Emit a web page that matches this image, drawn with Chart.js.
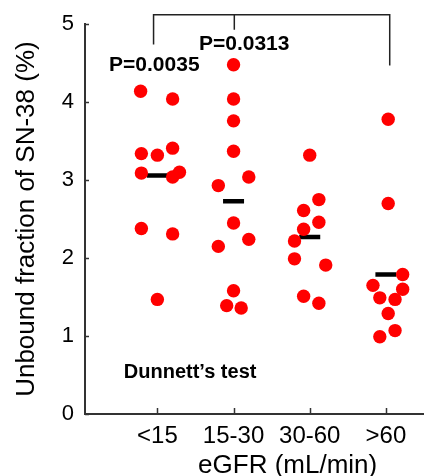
<!DOCTYPE html>
<html>
<head>
<meta charset="utf-8">
<script src="https://cdn.jsdelivr.net/npm/chart.js@4.4.1/dist/chart.umd.min.js"></script>
<style>
  html, body { margin: 0; padding: 0; background: #fff; }
  canvas { display: block; }
</style>
</head>
<body>
<canvas id="grafico" width="424" height="476"></canvas>
<script>
// Categorías de eGFR (mL/min)
const categorias = ['<15', '15-30', '30-60', '>60'];

// Fracción libre de SN-38 (%) por grupo
const valoresG1 = [4.14, 4.04, 3.41, 3.34, 3.32, 3.10, 3.09, 3.04, 2.38, 2.31, 1.47];
const valoresG2 = [4.48, 4.04, 3.76, 3.37, 3.04, 2.93, 2.45, 2.24, 2.15, 1.58, 1.39, 1.36];
const valoresG3 = [3.32, 2.75, 2.61, 2.46, 2.37, 2.22, 1.99, 1.91, 1.51, 1.42];
const valoresG4 = [3.78, 2.70, 1.79, 1.65, 1.60, 1.49, 1.47, 1.29, 1.07, 0.99];

// Desplazamiento horizontal (jitter) de cada punto respecto a su categoría
const jitterG1 = [-0.22, 0.20, 0.20, -0.21, 0.00, 0.29, -0.21, 0.20, -0.21, 0.20, 0.00];
const jitterG2 = [0.00, 0.00, 0.00, 0.00, 0.20, -0.20, 0.00, 0.20, -0.20, 0.00, -0.09, 0.10];
const jitterG3 = [0.00, 0.12, -0.08, 0.12, -0.08, -0.20, -0.20, 0.21, -0.08, 0.12];
const jitterG4 = [0.03, 0.03, 0.22, -0.17, 0.22, -0.08, 0.12, 0.03, 0.12, -0.08];

// Medias de cada grupo
const medias = [3.06, 2.73, 2.27, 1.79];

// Marcas del eje Y
const ticksY = [0, 1, 2, 3, 4, 5];

const grupos = [valoresG1, valoresG2, valoresG3, valoresG4];
const jitters = [jitterG1, jitterG2, jitterG3, jitterG4];

let puntos = [];
grupos.forEach((vals, i) => {
    vals.forEach((v, j) => {
        puntos.push({ x: i + 1 + jitters[i][j], y: v });
    });
});

const puntosMedias = medias.map((m, i) => ({ x: i + 1, y: m }));

const fuente = "'Liberation Sans', Arial, sans-serif";

// Anotaciones: marcas interiores, corchete, valores P y títulos
const anotaciones = {
    id: 'anotaciones',
    afterDraw(chart) {
        const ctx = chart.ctx;
        const xs = chart.scales.x;
        const ys = chart.scales.y;
        const area = chart.chartArea;

        ctx.save();
        ctx.strokeStyle = '#333';
        ctx.lineWidth = 1.5;

        // marcas hacia dentro
        ticksY.forEach(t => {
            const py = Math.round(ys.getPixelForValue(t)) + 0.5;
            ctx.beginPath();
            ctx.moveTo(area.left, py);
            ctx.lineTo(area.left + 4, py);
            ctx.stroke();
        });
        categorias.forEach((c, i) => {
            const px = Math.round(xs.getPixelForValue(i + 1)) + 0.5;
            ctx.beginPath();
            ctx.moveTo(px, area.bottom);
            ctx.lineTo(px, area.bottom - 6);
            ctx.stroke();
        });

        // corchete de comparación
        const xl = xs.getPixelForValue(0.95);
        const xm = xs.getPixelForValue(2.01);
        const xr = xs.getPixelForValue(4.05);
        const yTop = ys.getPixelForValue(5.12);
        ctx.strokeStyle = '#222';
        ctx.beginPath();
        ctx.moveTo(xl, ys.getPixelForValue(4.74));
        ctx.lineTo(xl, yTop);
        ctx.lineTo(xr, yTop);
        ctx.lineTo(xr, ys.getPixelForValue(4.47));
        ctx.moveTo(xm, yTop);
        ctx.lineTo(xm, ys.getPixelForValue(4.93));
        ctx.stroke();

        ctx.fillStyle = '#000';
        ctx.textAlign = 'center';
        ctx.textBaseline = 'middle';
        ctx.font = 'bold 21px ' + fuente;
        ctx.fillText('P=0.0035', xs.getPixelForValue(0.96), ys.getPixelForValue(4.47));
        ctx.fillText('P=0.0313', xs.getPixelForValue(2.14), ys.getPixelForValue(4.74));

        ctx.font = 'bold 20px ' + fuente;
        ctx.fillText('Dunnett\u2019s test', xs.getPixelForValue(1.43), ys.getPixelForValue(0.53));

        // título del eje X
        ctx.font = '26px ' + fuente;
        ctx.fillText('eGFR (mL/min)', xs.getPixelForValue(2.71), area.bottom + 52);
        ctx.restore();
    }
};

function crearGrafico() {
    const ctx = document.getElementById('grafico').getContext('2d');
    new Chart(ctx, {
        type: 'scatter',
        data: {
            datasets: [
                {
                    label: 'Pacientes',
                    data: puntos,
                    backgroundColor: '#ff0000',
                    borderWidth: 0,
                    pointRadius: 6.7,
                    pointHoverRadius: 6.7,
                    order: 1
                },
                {
                    label: 'Media',
                    data: puntosMedias,
                    pointStyle: 'line',
                    borderColor: '#000',
                    backgroundColor: '#000',
                    pointBorderWidth: 4.5,
                    pointRadius: 10.5,
                    order: 2
                }
            ]
        },
        options: {
            responsive: false,
            animation: false,
            layout: { autoPadding: false, padding: { top: 21, right: 0, bottom: 0, left: 0 } },
            plugins: {
                legend: { display: false },
                tooltip: { enabled: false }
            },
            scales: {
                x: {
                    type: 'linear',
                    min: 0.05,
                    max: 4.5,
                    afterFit: s => { s.height = 62; s.paddingLeft = 0; s.paddingRight = 0; },
                    afterBuildTicks: s => { s.ticks = categorias.map((c, i) => ({ value: i + 1 })); },
                    grid: { display: false, drawTicks: false },
                    border: { display: true, color: '#333', width: 2 },
                    ticks: {
                        color: '#000',
                        padding: 8,
                        maxRotation: 0,
                        autoSkip: false,
                        font: { family: fuente, size: 24 },
                        callback: v => categorias[v - 1]
                    }
                },
                y: {
                    min: 0,
                    max: 5,
                    afterFit: s => { s.width = 85; },
                    grid: { display: false, drawTicks: false },
                    border: { display: true, color: '#333', width: 2 },
                    ticks: {
                        stepSize: 1,
                        color: '#000',
                        padding: 11,
                        font: { family: fuente, size: 22 }
                    },
                    title: {
                        display: true,
                        text: 'Unbound fraction of SN-38 (%)',
                        color: '#000',
                        padding: { top: 11, bottom: 4 },
                        font: { family: fuente, size: 26 }
                    }
                }
            }
        },
        plugins: [anotaciones]
    });
}

window.onload = crearGrafico;
</script>
</body>
</html>
